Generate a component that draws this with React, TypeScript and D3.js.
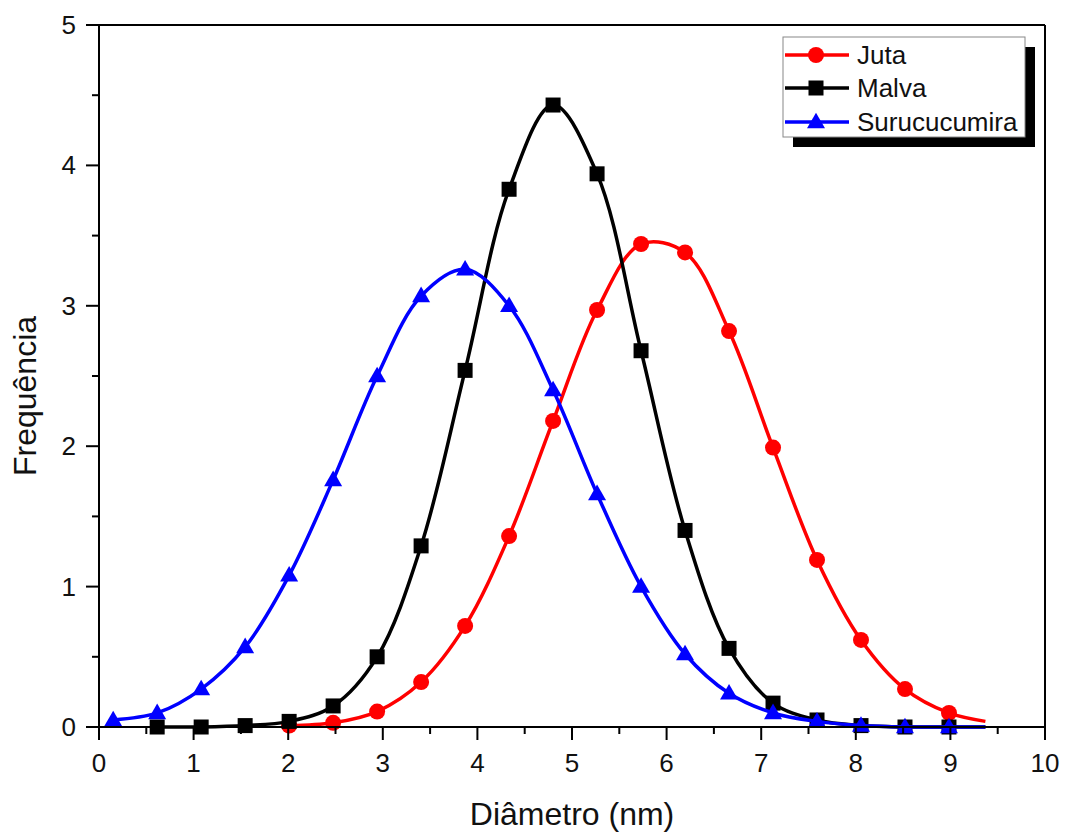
import React from "react";
import * as d3 from "d3";

const xPositions = [0.15, 0.615, 1.08, 1.545, 2.01, 2.475, 2.94, 3.405, 3.87, 4.335, 4.8, 5.265, 5.73, 6.195, 6.66, 7.125, 7.59, 8.055, 8.52, 8.985];

// values aligned with xPositions; null = no point
const jutaValues = [null, null, null, null, 0.01, 0.03, 0.11, 0.32, 0.72, 1.36, 2.18, 2.97, 3.44, 3.38, 2.82, 1.99, 1.19, 0.62, 0.27, 0.1];
const malvaValues = [null, 0.0, 0.0, 0.01, 0.04, 0.15, 0.5, 1.29, 2.54, 3.83, 4.43, 3.94, 2.68, 1.4, 0.56, 0.17, 0.05, 0.01, 0.0, 0.0];
const surucucumiraValues = [0.05, 0.1, 0.27, 0.57, 1.08, 1.76, 2.5, 3.07, 3.26, 3.0, 2.4, 1.66, 1.0, 0.52, 0.24, 0.1, 0.04, 0.01, 0.0, 0.0];

const lineEndX = 9.37;
const tailValues = [0.04, 0.0, 0.0];

const seriesNames = ["Juta", "Malva", "Surucucumira"];
const seriesColors = ["#ff0000", "#000000", "#0000ff"];
const seriesShapes = ["circle", "square", "triangle"];

const xTicks = [0, 1, 2, 3, 4, 5, 6, 7, 8, 9, 10];
const xMinorTicks = [0.5, 1.5, 2.5, 3.5, 4.5, 5.5, 6.5, 7.5, 8.5, 9.5];
const yTicks = [0, 1, 2, 3, 4, 5];
const yMinorTicks = [0.5, 1.5, 2.5, 3.5, 4.5];

const xTitle = "Diâmetro (nm)";
const yTitle = "Frequência";

const W = 1066, H = 834;
const L = 99, R = 1045, T = 25, B = 727;
const FONT = "'Liberation Sans', Arial, sans-serif";

function Marker({ shape, cx, cy, color }: { shape: string; cx: number; cy: number; color: string }) {
  if (shape === "circle") return <circle cx={cx} cy={cy} r={8} fill={color} />;
  if (shape === "square") return <rect x={cx - 7.5} y={cy - 7.5} width={15} height={15} fill={color} />;
  const s = 18;
  const h = s * 0.866;
  return (
    <polygon
      points={`${cx},${cy - h * 0.6} ${cx - s / 2},${cy + h * 0.4} ${cx + s / 2},${cy + h * 0.4}`}
      fill={color}
    />
  );
}

export default function App() {
  const x = d3.scaleLinear().domain([0, 10]).range([L, R]);
  const y = d3.scaleLinear().domain([0, 5]).range([B, T]);
  const allValues = [jutaValues, malvaValues, surucucumiraValues];

  const line = d3
    .line<[number, number]>()
    .x((d) => x(d[0]))
    .y((d) => y(d[1]))
    .curve(d3.curveCatmullRom.alpha(0.5));

  const series = allValues.map((vals, i) => {
    const pts: [number, number][] = [];
    vals.forEach((v, j) => {
      if (v !== null) pts.push([xPositions[j], v as number]);
    });
    const linePts: [number, number][] = [...pts, [lineEndX, tailValues[i]]];
    return { pts, linePts, name: seriesNames[i], color: seriesColors[i], shape: seriesShapes[i] };
  });

  const legX = 783, legY = 37, legW = 242, legH = 100;
  const rowY = [55, 88, 122];

  return (
    <svg width={W} height={H} style={{ position: "absolute", left: 0, top: 0, background: "#fff" }} fontFamily={FONT}>
      <rect x={0} y={0} width={W} height={H} fill="#fff" />
      {/* curves */}
      {series.map((s, i) => (
        <g key={i}>
          <path d={line(s.linePts) || ""} fill="none" stroke={s.color} strokeWidth={3.5} />
          {s.pts.map((p, j) => (
            <Marker key={j} shape={s.shape} cx={x(p[0])} cy={y(p[1])} color={s.color} />
          ))}
        </g>
      ))}
      {/* frame */}
      <line x1={L} x2={R} y1={T} y2={T} stroke="#000" strokeWidth={2} />
      <line x1={R} x2={R} y1={T} y2={B} stroke="#000" strokeWidth={2} />
      <line x1={L} x2={L} y1={T - 1} y2={B + 1} stroke="#000" strokeWidth={2} />
      <line x1={L - 1} x2={R + 1} y1={B} y2={B} stroke="#000" strokeWidth={2} />
      {/* x ticks */}
      {xTicks.map((t) => (
        <g key={"xt" + t}>
          <line x1={x(t)} x2={x(t)} y1={B} y2={B + 13} stroke="#000" strokeWidth={2} />
          <text x={x(t)} y={B + 45} fontSize={26} textAnchor="middle" fill="#111">
            {t}
          </text>
        </g>
      ))}
      {xMinorTicks.map((t) => (
        <line key={"xm" + t} x1={x(t)} x2={x(t)} y1={B} y2={B + 7} stroke="#000" strokeWidth={2} />
      ))}
      {/* y ticks */}
      {yTicks.map((t) => (
        <g key={"yt" + t}>
          <line x1={L - 13} x2={L} y1={y(t)} y2={y(t)} stroke="#000" strokeWidth={2} />
          <text x={L - 23} y={y(t) + 9} fontSize={26} textAnchor="end" fill="#111">
            {t}
          </text>
        </g>
      ))}
      {yMinorTicks.map((t) => (
        <line key={"ym" + t} x1={L - 7} x2={L} y1={y(t)} y2={y(t)} stroke="#000" strokeWidth={2} />
      ))}
      {/* titles */}
      <text x={(L + R) / 2 + 0} y={825} fontSize={32} textAnchor="middle" fill="#111">
        {xTitle}
      </text>
      <text
        transform={`translate(36, ${(T + B) / 2 + 20}) rotate(-90)`}
        fontSize={32}
        textAnchor="middle"
        fill="#111"
      >
        {yTitle}
      </text>
      {/* legend */}
      <rect x={legX + 10} y={legY + 10} width={legW} height={legH} fill="#000" />
      <rect x={legX} y={legY} width={legW} height={legH} fill="#fff" stroke="#888" strokeWidth={1} />
      {series.map((s, i) => (
        <g key={"lg" + i}>
          <line x1={legX + 2} x2={legX + 66} y1={rowY[i]} y2={rowY[i]} stroke={s.color} strokeWidth={3.5} />
          <Marker shape={s.shape} cx={legX + 33} cy={rowY[i]} color={s.color} />
          <text x={legX + 74} y={rowY[i] + 9} fontSize={26} fill="#111">
            {s.name}
          </text>
        </g>
      ))}
    </svg>
  );
}
